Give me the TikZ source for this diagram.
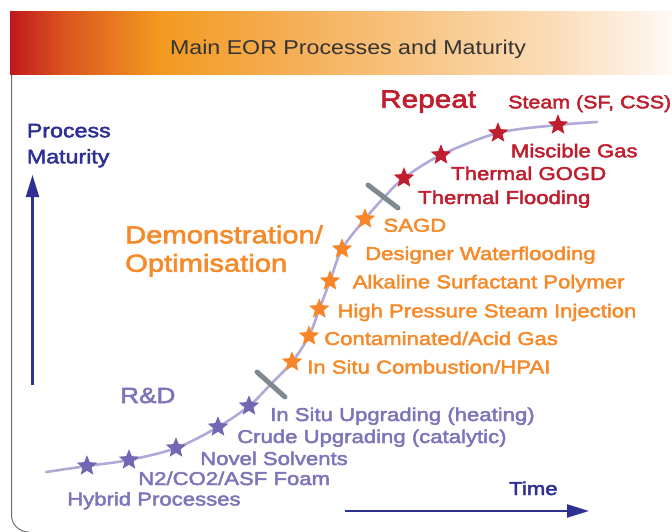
\documentclass[tikz,border=0pt]{standalone}
\usepackage{fontspec}
\setmainfont{Liberation Sans}[FakeStretch=1.19,FakeBold=2.5]
\newfontfamily\titlefont{Liberation Sans}[FakeStretch=1.16]
\usetikzlibrary{shapes.geometric,arrows.meta}

\definecolor{axisblue}{HTML}{2E3192}
\definecolor{rdpurple}{HTML}{7B75B9}
\definecolor{rdstar}{HTML}{7068B2}
\definecolor{demoorange}{HTML}{F58A2B}
\definecolor{demostar}{HTML}{F7862A}
\definecolor{repred}{HTML}{BE1E2D}
\definecolor{curvelav}{HTML}{B1A9D8}
\definecolor{tickgray}{HTML}{7F8A90}
\definecolor{framegray}{HTML}{6D6E71}
\definecolor{titlegray}{HTML}{333333}
\definecolor{gA}{HTML}{C0181E}
\definecolor{gB}{HTML}{D9521E}
\definecolor{gC}{HTML}{F39A20}
\definecolor{gD}{HTML}{F5B05A}
\definecolor{gE}{HTML}{F8CB92}
\definecolor{gF}{HTML}{FBDCB8}
\definecolor{gG}{HTML}{FEF9F4}

\newcommand{\fsz}[1]{\fontsize{#1}{#1}\selectfont}

\begin{document}
\begin{tikzpicture}[x=1pt,y=-1pt,
  lbl/.style={anchor=base west,inner sep=0pt,font=\fsz{18.6}},
  rdlbl/.style={lbl,text=rdpurple},
  demolbl/.style={lbl,text=demoorange},
  replbl/.style={lbl,text=repred},
  head/.style={anchor=base west,inner sep=0pt},
  starmark/.style={star,star points=5,star point ratio=2.25,minimum size=21.5pt,inner sep=0pt,draw=none},
  rdstarmark/.style={starmark,fill=rdstar},
  demostarmark/.style={starmark,fill=demostar},
  repstarmark/.style={starmark,fill=repred},
  phase/.style={tickgray,line width=5pt,line cap=round},
  axisarrow/.style={axisblue,line width=2.2pt,-{Triangle[length=22pt,width=13pt]}}
]
\useasboundingbox (0,0) rectangle (672,532);

% title banner with a red-to-cream gradient
\shade[left color=gA,right color=gB] (10,12) rectangle (61,75);
\shade[left color=gB,right color=gC] (60,12) rectangle (161,75);
\shade[left color=gC,right color=gD] (160,12) rectangle (301,75);
\shade[left color=gD,right color=gE] (300,12) rectangle (451,75);
\shade[left color=gE,right color=gF] (450,12) rectangle (551,75);
\shade[left color=gF,right color=gG] (550,12) rectangle (672,75);
\node[anchor=base,inner sep=0pt,text=titlegray,font=\titlefont\fsz{20}] (title) at (348,55) {Main EOR Processes and Maturity};

% frame edge
\draw[framegray,line width=1pt] (11.5,75) -- (11.5,515) .. controls (11.5,524.4) and (19.1,532) .. (28.5,532);

% axes
\coordinate (yfoot) at (32.5,385);
\coordinate (ytip) at (32.5,175);
\draw[axisarrow] (yfoot) -- (ytip);
\node[head,text=axisblue,font=\fsz{19.5}] (process) at (26.7,137.3) {Process};
\node[head,text=axisblue,font=\fsz{19.5}] (maturity) at (26.7,163.3) {Maturity};
\coordinate (xfoot) at (345,511);
\coordinate (xtip) at (589,511);
\draw[axisarrow] (xfoot) -- (xtip);
\node[head,text=axisblue,font=\fsz{18.6}] (time) at (509,495) {Time};

% maturity S-curve
\draw[curvelav,line width=2.6pt,line cap=round] plot[smooth,tension=0.55] coordinates {
  (46,472) (87,466) (129,460) (176,448) (218,427) (249,406) (271,384)
  (292,362) (309,336) (319.3,309) (330,281) (342,249) (365,219) (384,197.5)
  (404,178) (441,155) (498,133) (558,125) (597,122)};

% phase boundaries
\draw[phase] (257,372) -- (285,397);
\draw[phase] (368,185) -- (398,208);

% phase headings
\node[head,text=rdpurple,font=\fsz{22}] (rd) at (120,403) {R\&D};
\node[head,text=demoorange,font=\fsz{24.5}] (demo) at (125,243.3) {Demonstration/};
\node[head,text=demoorange,font=\fsz{24.5}] (optim) at (125,271.7) {Optimisation};
\node[head,text=repred,font=\fsz{25}] (repeat) at (380,107.7) {Repeat};

% R&D processes
\node[rdstarmark] (p1) at (87,466) {};
\node[rdstarmark] (p2) at (129,460) {};
\node[rdstarmark] (p3) at (176,448) {};
\node[rdstarmark] (p4) at (218,427) {};
\node[rdstarmark] (p5) at (249,406) {};
\node[rdlbl] (lp5) at (270,421) {In Situ Upgrading (heating)};
\node[rdlbl] (lp4) at (237,443) {Crude Upgrading (catalytic)};
\node[rdlbl] (lp3) at (200,465) {Novel Solvents};
\node[rdlbl] (lp2) at (138,485) {N2/CO2/ASF Foam};
\node[rdlbl] (lp1) at (67,505.5) {Hybrid Processes};

% demonstration / optimisation processes
\node[demostarmark] (o1) at (292,362) {};
\node[demostarmark] (o2) at (309,336) {};
\node[demostarmark] (o3) at (319.3,309) {};
\node[demostarmark] (o4) at (330,281) {};
\node[demostarmark] (o5) at (342,249) {};
\node[demostarmark] (o6) at (365,219) {};
\node[demolbl] (lo1) at (307,373.5) {In Situ Combustion/HPAI};
\node[demolbl] (lo2) at (324,345) {Contaminated/Acid Gas};
\node[demolbl] (lo3) at (337.3,317.3) {High Pressure Steam Injection};
\node[demolbl] (lo4) at (352.5,288.3) {Alkaline Surfactant Polymer};
\node[demolbl] (lo5) at (365,260) {Designer Waterflooding};
\node[demolbl] (lo6) at (383.3,231.7) {SAGD};

% repeat processes
\node[repstarmark] (r1) at (404,178) {};
\node[repstarmark] (r2) at (441,155) {};
\node[repstarmark] (r3) at (498,133) {};
\node[repstarmark] (r4) at (558,125) {};
\node[replbl] (lr1) at (418,204) {Thermal Flooding};
\node[replbl] (lr2) at (451,180) {Thermal GOGD};
\node[replbl] (lr3) at (510.7,157.3) {Miscible Gas};
\node[replbl,font=\fsz{18}] (lr4) at (508,108.3) {Steam (SF, CSS)};
\end{tikzpicture}
\end{document}
